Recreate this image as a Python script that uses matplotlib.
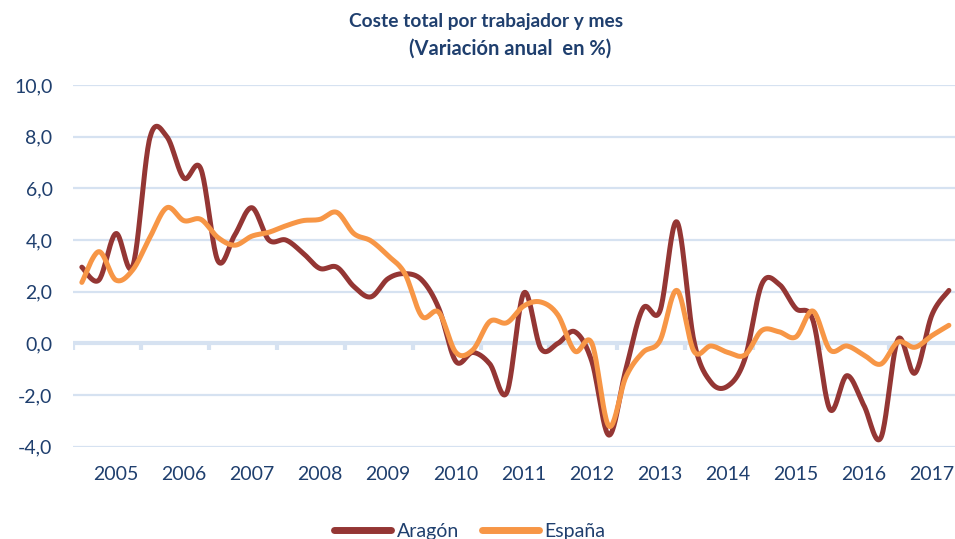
import numpy as np
import matplotlib
matplotlib.use("Agg")
import matplotlib.pyplot as plt

# Datos trimestrales, variacion anual en %
years = [str(y) for y in range(2005, 2018)]
aragon = [2.95, 2.45, 4.25, 3.0, 7.95, 8.0, 6.4, 6.75, 3.2, 4.2, 5.25, 4.0, 4.0,
          3.5, 2.9, 2.95, 2.2, 1.8, 2.5, 2.7, 2.45, 1.35, -0.7, -0.35, -0.8, -1.9,
          1.95, -0.2, 0.0, 0.45, -0.7, -3.55, -1.0, 1.35, 1.25, 4.7, 0.1, -1.5,
          -1.65, -0.6, 2.3, 2.3, 1.35, 0.9, -2.55, -1.25, -2.4, -3.65, 0.15,
          -1.15, 1.1, 2.05]
espana = [2.36, 3.55, 2.45, 2.85, 4.1, 5.25, 4.75, 4.8, 4.1, 3.8, 4.15, 4.3, 4.55,
          4.75, 4.8, 5.07, 4.25, 3.97, 3.4, 2.7, 1.05, 1.2, -0.35, -0.25, 0.85, 0.8,
          1.45, 1.6, 1.1, -0.3, 0.0, -3.2, -1.3, -0.35, 0.1, 2.05, -0.3, -0.1,
          -0.35, -0.45, 0.5, 0.45, 0.25, 1.25, -0.25, -0.1, -0.45, -0.8, 0.05,
          -0.15, 0.3, 0.7]

TXT = "#1F3F6E"
GRID = "#D6E2F1"
plt.rcParams['font.family'] = ['Lato', 'DejaVu Sans']


def suavizar(y, n=24):
    # curva suavizada tipo Excel (Bezier con puntos de control Catmull-Rom)
    y = np.asarray(y, dtype=float)
    x = np.arange(len(y), dtype=float)
    pts = np.column_stack([x, y])
    ext = np.vstack([pts[0], pts, pts[-1]])
    out = []
    t = np.linspace(0, 1, n, endpoint=False)[:, None]
    for i in range(len(pts) - 1):
        p0, p1, p2, p3 = ext[i], ext[i + 1], ext[i + 2], ext[i + 3]
        c1 = p1 + (p2 - p0) / 6
        c2 = p2 - (p3 - p1) / 6
        seg = ((1 - t) ** 3) * p1 + 3 * ((1 - t) ** 2) * t * c1 \
            + 3 * (1 - t) * t ** 2 * c2 + t ** 3 * p2
        out.append(seg)
    out.append(pts[-1][None, :])
    out = np.vstack(out)
    return out[:, 0], out[:, 1]


fig = plt.figure(figsize=(9.55, 5.39), dpi=100)
ax = fig.add_axes([0.0768, 0.1712, 0.9257, 0.6711])

n = len(aragon)
ax.set_xlim(-0.5, n - 0.5)
ax.set_ylim(-4, 10)

yt = np.arange(-4, 11, 2)
for v in yt:
    if v != 0:
        ax.axhline(v, color=GRID, lw=1.6, zorder=0)
ax.axhline(0, color=GRID, lw=3.0, zorder=1)
ax.vlines(np.arange(-0.5, n, 4), -0.25, 0, color=GRID, lw=3.0, zorder=1)

xa, ya = suavizar(aragon)
xe, ye = suavizar(espana)
ax.plot(xa, ya, color="#943634", lw=3.6, solid_capstyle='round', zorder=3, label="Aragón")
ax.plot(xe, ye, color="#F79646", lw=3.6, solid_capstyle='round', zorder=4, label="España")

ax.set_yticks(yt)
ax.set_yticklabels([f"{v:.1f}".replace(".", ",") for v in yt])
ax.set_xticks(np.arange(2, n, 4))
ax.set_xticklabels(years)
ax.tick_params(axis='y', length=0, pad=15, labelsize=14, labelcolor=TXT)
ax.tick_params(axis='x', length=0, pad=14, labelsize=14, labelcolor=TXT)
for s in ax.spines.values():
    s.set_visible(False)

fig.text(486 / 955, 1 - 21 / 539, "Coste total por trabajador y mes", ha='center', va='center',
         fontsize=13.8, fontweight='bold', color=TXT)
fig.text(510 / 955, 1 - 49 / 539, "(Variación anual  en %)", ha='center', va='center',
         fontsize=14.5, fontweight='bold', color=TXT)

fig.legend(loc='center', bbox_to_anchor=(470 / 955, 1 - 531 / 539), ncol=2, frameon=False,
           fontsize=14, handlelength=2.9, handletextpad=0.3, columnspacing=1.2,
           labelcolor=TXT)
for line in fig.legends[0].get_lines():
    line.set_linewidth(5)

fig.savefig("out.png", dpi=100)
